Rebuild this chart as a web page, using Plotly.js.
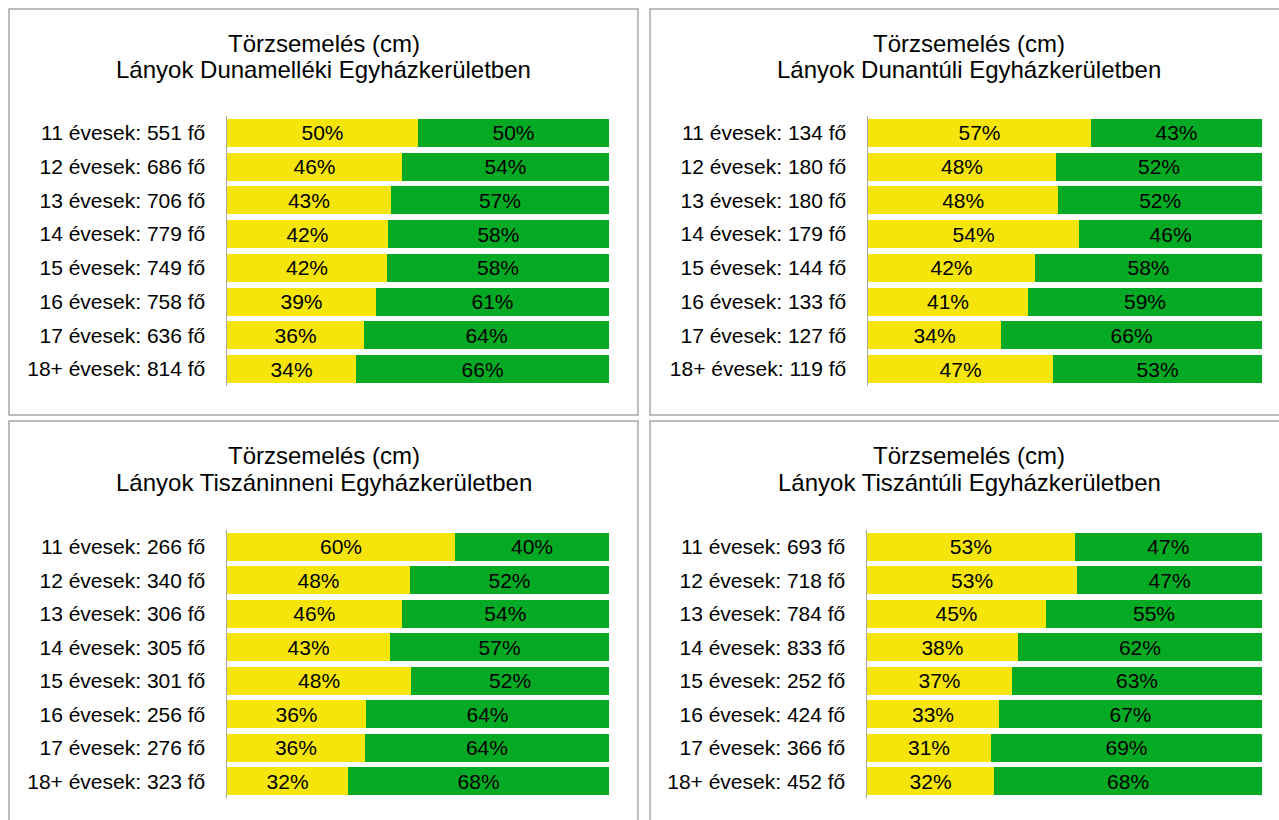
<!DOCTYPE html>
<html>
<head>
<meta charset="utf-8">
<script src="https://cdn.plot.ly/plotly-3.0.1.min.js"></script>
<style>html,body{margin:0;padding:0;background:#fff;}#chart{width:1279px;height:820px;}</style>
</head>
<body>
<div id="chart"></div>
<script>
// ---- data ----
const ages = ['11 évesek', '12 évesek', '13 évesek', '14 évesek', '15 évesek', '16 évesek', '17 évesek', '18+ évesek'];

const titleTop = 'Törzsemelés (cm)';
const regionTitles = [
  'Lányok Dunamelléki Egyházkerületben',
  'Lányok Dunantúli Egyházkerületben',
  'Lányok Tiszáninneni Egyházkerületben',
  'Lányok Tiszántúli Egyházkerületben'
];

const countsDunamellek = [551, 686, 706, 779, 749, 758, 636, 814];
const countsDunantul   = [134, 180, 180, 179, 144, 133, 127, 119];
const countsTiszainn   = [266, 340, 306, 305, 301, 256, 276, 323];
const countsTiszantul  = [693, 718, 784, 833, 252, 424, 366, 452];

const yellowDunamellek = [50.0, 45.8, 42.9, 42.1, 41.9, 39.0, 35.9, 33.8];
const greenDunamellek  = [50.0, 54.2, 57.1, 57.9, 58.1, 61.0, 64.1, 66.2];
const yellowDunantul   = [56.6, 47.7, 48.3, 53.6, 42.4, 40.6, 33.8, 47.0];
const greenDunantul    = [43.4, 52.3, 51.7, 46.4, 57.6, 59.4, 66.2, 53.0];
const yellowTiszainn   = [59.7, 47.9, 45.7, 42.7, 48.2, 36.4, 36.1, 31.7];
const greenTiszainn    = [40.3, 52.1, 54.3, 57.3, 51.8, 63.6, 63.9, 68.3];
const yellowTiszantul  = [52.6, 53.2, 45.3, 38.2, 36.7, 33.4, 31.4, 32.2];
const greenTiszantul   = [47.4, 46.8, 54.7, 61.8, 63.3, 66.6, 68.6, 67.8];

// ---- build ----
const W = 1279, H = 820;
const FONT = 'Liberation Sans, Arial, sans-serif';
const YELLOW = '#f5e50a';
const GREEN = '#04aa23';

const panels = [
  {counts: countsDunamellek, yellow: yellowDunamellek, green: greenDunamellek, title: regionTitles[0],
   box: [9, 9, 638, 415], cx: 323.5, plot: [227, 609, 116, 386]},
  {counts: countsDunantul, yellow: yellowDunantul, green: greenDunantul, title: regionTitles[1],
   box: [650, 9, 1290, 415], cx: 969, plot: [868, 1262, 116, 386]},
  {counts: countsTiszainn, yellow: yellowTiszainn, green: greenTiszainn, title: regionTitles[2],
   box: [9, 421, 638, 830], cx: 323.5, plot: [227, 609, 530, 798]},
  {counts: countsTiszantul, yellow: yellowTiszantul, green: greenTiszantul, title: regionTitles[3],
   box: [650, 421, 1290, 830], cx: 969, plot: [867, 1262, 530, 798]}
];

const traces = [];
const layout = {
  width: W, height: H,
  margin: {l: 0, r: 0, t: 0, b: 0},
  paper_bgcolor: '#fff', plot_bgcolor: 'rgba(0,0,0,0)',
  barmode: 'stack', bargap: 0.17,
  showlegend: false,
  hovermode: false,
  font: {family: FONT, color: '#000'},
  shapes: [], annotations: []
};

panels.forEach((p, i) => {
  const k = i === 0 ? '' : String(i + 1);
  const labels = ages.map((a, j) => a + ': ' + p.counts[j] + ' fő');
  const common = {
    type: 'bar', orientation: 'h', y: labels,
    xaxis: 'x' + k, yaxis: 'y' + k,
    texttemplate: '%{x:.0f}%', textposition: 'inside', insidetextanchor: 'middle',
    textangle: 0, constraintext: 'none',
    textfont: {family: FONT, size: 21, color: '#000'},
    hoverinfo: 'skip'
  };
  traces.push(Object.assign({}, common, {x: p.yellow, marker: {color: YELLOW, line: {width: 0}}}));
  traces.push(Object.assign({}, common, {x: p.green, marker: {color: GREEN, line: {width: 0}}}));

  const [px0, px1, py0, py1] = p.plot;
  layout['xaxis' + k] = {
    domain: [px0 / W, px1 / W], range: [0, 100], visible: false, fixedrange: true,
    anchor: 'y' + k
  };
  layout['yaxis' + k] = {
    domain: [1 - py1 / H, 1 - py0 / H], type: 'category', autorange: 'reversed',
    anchor: 'x' + k, showline: true, linecolor: '#a6a6a6', linewidth: 1.5,
    ticks: '', showgrid: false, zeroline: false, fixedrange: true,
    tickfont: {family: FONT, size: 21, color: '#000'}, ticklabelstandoff: 16
  };

  const [bx0, by0, bx1, by1] = p.box;
  layout.shapes.push({
    type: 'rect', xref: 'paper', yref: 'paper',
    x0: bx0 / W, x1: bx1 / W, y0: 1 - by1 / H, y1: 1 - by0 / H,
    line: {color: '#a6a6a6', width: 1.5}, fillcolor: 'rgba(0,0,0,0)'
  });
  layout.annotations.push({
    xref: 'paper', yref: 'paper', x: p.cx / W, y: 1 - (by0 + 34) / H,
    xanchor: 'center', yanchor: 'middle', showarrow: false,
    text: titleTop, font: {family: FONT, size: 24, color: '#000'}
  });
  layout.annotations.push({
    xref: 'paper', yref: 'paper', x: p.cx / W, y: 1 - (by0 + 61) / H,
    xanchor: 'center', yanchor: 'middle', showarrow: false,
    text: p.title, font: {family: FONT, size: 24, color: '#000'}
  });
});

Plotly.newPlot('chart', traces, layout, {displayModeBar: false, staticPlot: true});
</script>
</body>
</html>
